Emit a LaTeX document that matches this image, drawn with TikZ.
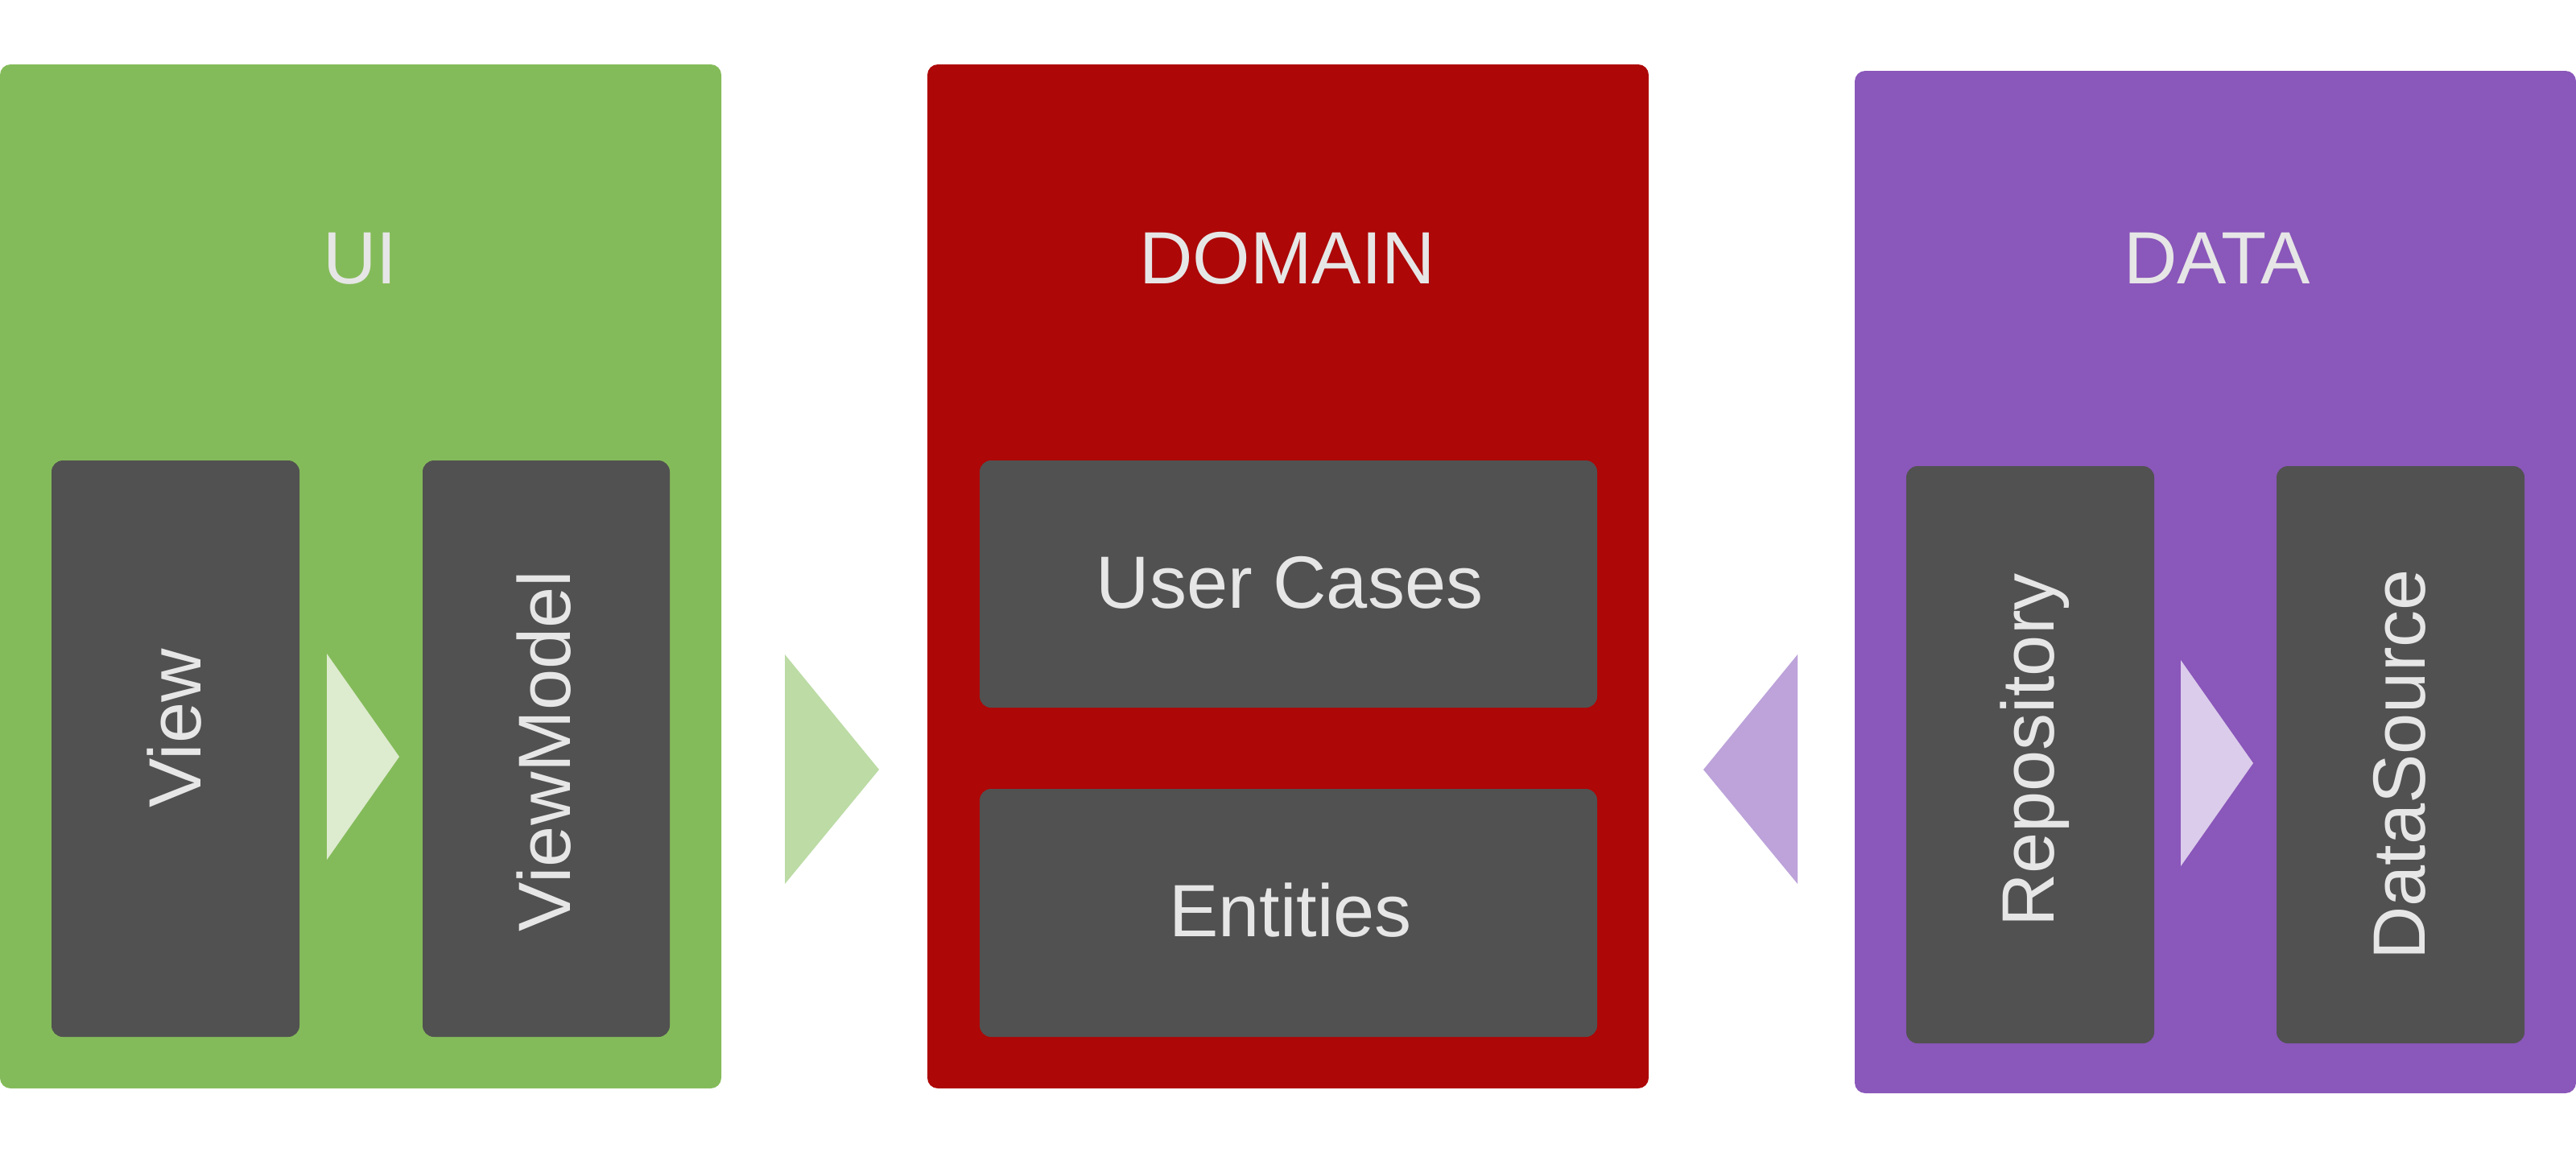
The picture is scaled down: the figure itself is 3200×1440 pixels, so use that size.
\documentclass[tikz,border=0pt]{standalone}
\usepackage{fontspec}
\setmainfont{Liberation Sans}
\definecolor{uigreen}{HTML}{84BB5A}
\definecolor{domred}{HTML}{AD0707}
\definecolor{datapurple}{HTML}{8A57BA}
\definecolor{boxgray}{HTML}{515151}
\definecolor{txtgray}{HTML}{E6E6E6}
\definecolor{greenlight}{HTML}{DDEBCF}
\definecolor{greenmid}{HTML}{BCDBA5}
\definecolor{purplemid}{HTML}{BDA3DA}
\definecolor{purplelight}{HTML}{DBCCEB}
\tikzset{
  panel/.style={rounded corners=3.25pt},
  innerbox/.style={fill=boxgray, rounded corners=3.5pt},
  lbl/.style={text=txtgray, inner sep=0pt, anchor=base, font=\fontsize{23pt}{28pt}\selectfont},
  ttl/.style={lbl},
  vlbl/.style={lbl, rotate=90}
}
\begin{document}
\begin{tikzpicture}[x=0.25pt,y=-0.25pt]
\useasboundingbox (0,0) rectangle (3200,1440);
% panels
\fill[panel, uigreen] (0,80) rectangle (896,1352);
\fill[panel, domred] (1152,80) rectangle (2048,1352);
\fill[panel, datapurple] (2304,88) rectangle (3200,1358);
% inner boxes
\fill[innerbox] (64,572) rectangle (372,1288);
\fill[innerbox] (525,572) rectangle (832,1288);
\fill[innerbox] (1217,572) rectangle (1984,879);
\fill[innerbox] (1217,980) rectangle (1984,1288);
\fill[innerbox] (2368,579) rectangle (2676,1296);
\fill[innerbox] (2828,579) rectangle (3136,1296);
% arrows
\fill[greenlight] (406,812) -- (496,940) -- (406,1068) -- cycle;
\fill[greenmid] (975,813) -- (1092,956) -- (975,1098) -- cycle;
\fill[purplemid] (2233,813) -- (2116,956) -- (2233,1098) -- cycle;
\fill[purplelight] (2709,820) -- (2799,948) -- (2709,1076) -- cycle;
% titles
\node[ttl] (tui) at (447,352) {UI};
\node[ttl] (tdom) at (1599,352) {DOMAIN};
\node[ttl] (tdata) at (2754,352) {DATA};
% labels
\node[vlbl] (view) at (249,905) {View};
\node[vlbl] (vm) at (708,933) {ViewModel};
\node[lbl] (uc) at (1602,755) {User Cases};
\node[lbl] (ent) at (1603,1163) {Entities};
\node[vlbl] (repo) at (2551,932) {Repository};
\node[vlbl] (ds) at (3012,950) {DataSource};
\end{tikzpicture}
\end{document}
